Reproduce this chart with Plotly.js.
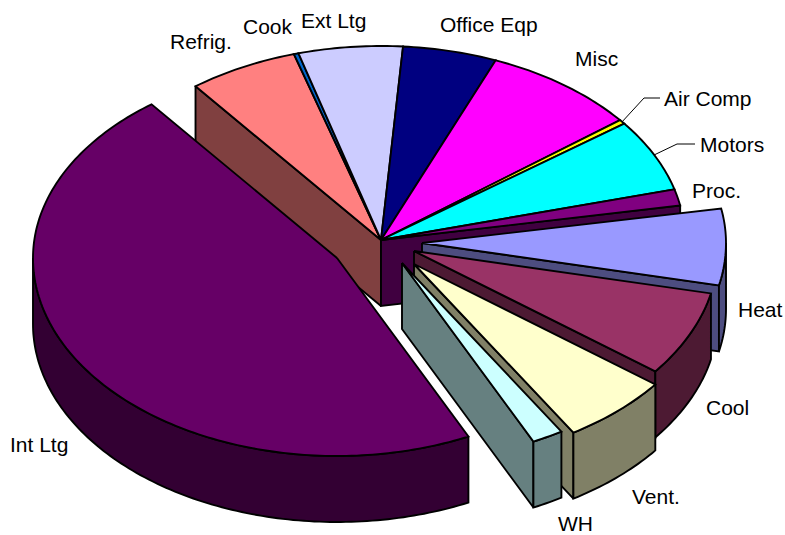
<!DOCTYPE html>
<html>
<head>
<meta charset="utf-8">
<script src="https://cdn.plot.ly/plotly-3.0.1.min.js"></script>
<style>html,body{margin:0;padding:0;background:#fff}#chart{width:785px;height:535px}</style>
</head>
<body>
<div id="chart"></div>
<script>
// Data: share of total (percent) going clockwise from Refrig.
var categories = ['Refrig.','Cook','Ext Ltg','Office Eqp','Misc','Air Comp','Motors','Proc.','Heat','Cool','Vent.','WH','Int Ltg'];
var values     = [5.82, 0.25, 5.53, 5.0, 8.24, 0.36, 6.04, 1.36, 6.28, 6.97, 5.81, 1.67, 46.67];
var colors     = ['#FF8080','#0066CC','#CCCCFF','#000080','#FF00FF','#FFFF00','#00FFFF','#800080','#9999FF','#993366','#FFFFCC','#CCFFFF','#660066'];
var explodeX   = [0,0,0,0,0,0,0,0,41,33,33,21,-44];
var explodeY   = [0,0,0,0,0,0,0,0,3,11,24,23,18];
var labelX     = [201,268,333,489,596,708,732,716,760,727,656,575,39];
var labelY     = [41,26,20,24,58,98,144,190,309,407,496,523,444];
var leaderFor  = ['Air Comp','Motors'];

// Projection of the tilted pie (the near half is slightly larger, as in perspective)
var CX = 381, CY = 240, RX = 304, RY_BACK = 194, RY_FRONT = 198, DEPTH = 66, START = 127.6;
var EDGE = 1.9;

function half(hex){
  var n = parseInt(hex.slice(1),16);
  var c = [n>>16, (n>>8)&255, n&255].map(function(v){return Math.round(v/2);});
  return 'rgb('+c.join(',')+')';
}
function rim(t,ox,oy,dz){
  var r = t*Math.PI/180, s = Math.sin(r);
  return [CX+ox+RX*Math.cos(r), CY+oy-(s>0?RY_BACK:RY_FRONT)*s+(dz||0)];
}
function arc(t0,t1,ox,oy,dz){
  var n = Math.max(2,Math.ceil(Math.abs(t0-t1))), pts = [];
  for(var i=0;i<=n;i++) pts.push(rim(t0+(t1-t0)*i/n,ox,oy,dz));
  return pts;
}
function poly(pts,fill){
  var xs = pts.map(function(p){return p[0];}), ys = pts.map(function(p){return p[1];});
  xs.push(xs[0]); ys.push(ys[0]);
  return {type:'scatter',mode:'lines',x:xs,y:ys,fill:'toself',fillcolor:fill,
    line:{color:'#000',width:EDGE,simplify:false},hoverinfo:'skip',showlegend:false};
}
function cutWall(t,ox,oy,fill){
  var a=[CX+ox,CY+oy], b=rim(t,ox,oy);
  return poly([a,b,[b[0],b[1]+DEPTH],[a[0],a[1]+DEPTH]],fill);
}

var total = values.reduce(function(s,v){return s+v;},0);
var angle = START, slices = categories.map(function(name,i){
  var t0 = angle, t1 = angle - values[i]/total*360; angle = t1;
  return {name:name,t0:t0,t1:t1,ox:explodeX[i],oy:explodeY[i],color:colors[i],side:half(colors[i]),
          exploded:explodeX[i]!==0||explodeY[i]!==0};
});
function isCos(t){return Math.cos(t*Math.PI/180);}

var traces = [];
// Cut walls of the fixed group, where an exploded neighbour uncovers them
slices.forEach(function(s,i){
  if(s.exploded) return;
  var prev = slices[(i-1+slices.length)%slices.length], next = slices[(i+1)%slices.length];
  if(prev.exploded && isCos(s.t0)<0) traces.push(cutWall(s.t0,0,0,s.side));
  if(next.exploded && isCos(s.t1)>0) traces.push(cutWall(s.t1,0,0,s.side));
});
// Top faces of the fixed group
slices.forEach(function(s){
  if(s.exploded) return;
  traces.push(poly([[CX,CY]].concat(arc(s.t0,s.t1,0,0)),s.color));
});
// Exploded slices, back to front
slices.forEach(function(s){
  if(!s.exploded) return;
  if(isCos(s.t1)>0) traces.push(cutWall(s.t1,s.ox,s.oy,s.side));
  var hi = Math.min(s.t0,0), lo = Math.max(s.t1,-180);
  if(hi>lo){
    var top = arc(hi,lo,s.ox,s.oy), bot = arc(lo,hi,s.ox,s.oy,DEPTH);
    traces.push(poly(top.concat(bot),s.side));
  }
  traces.push(poly([[CX+s.ox,CY+s.oy]].concat(arc(s.t0,s.t1,s.ox,s.oy)),s.color));
});
// Leader lines from the slice rim to the label
leaderFor.forEach(function(name){
  var i = categories.indexOf(name), s = slices[i];
  var p = rim((s.t0+s.t1)/2,s.ox,s.oy);
  var endX = labelX[i]-(name==='Motors'?37:48), elbowX = endX-(name==='Motors'?18:16);
  traces.push({type:'scatter',mode:'lines',x:[p[0],elbowX,endX],y:[p[1],labelY[i],labelY[i]],
    line:{color:'#000',width:1},hoverinfo:'skip',showlegend:false});
});

var annotations = categories.map(function(name,i){
  return {x:labelX[i],y:labelY[i],xref:'x',yref:'y',text:name,showarrow:false,
    xanchor:'center',yanchor:'middle',font:{family:'"Liberation Sans", Arial, sans-serif',size:21,color:'#000'}};
});

var layout = {
  width:785,height:535,margin:{l:0,r:0,t:0,b:0},
  paper_bgcolor:'#fff',plot_bgcolor:'#fff',showlegend:false,hovermode:false,
  xaxis:{range:[0,785],visible:false,fixedrange:true},
  yaxis:{range:[535,0],visible:false,fixedrange:true},
  annotations:annotations
};
Plotly.newPlot('chart',traces,layout,{displayModeBar:false,staticPlot:true});
</script>
</body>
</html>
